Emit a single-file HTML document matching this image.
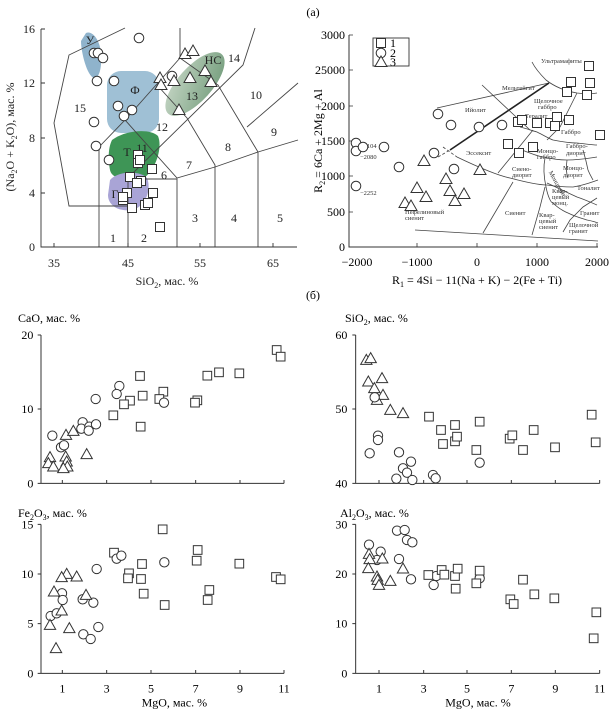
<!DOCTYPE html>
<html><head><meta charset="utf-8"><style>
html,body{margin:0;padding:0;background:#fff;}
svg{display:block;font-family:"Liberation Serif",serif;}
</style></head><body>
<svg width="613" height="714" viewBox="0 0 613 714" xmlns="http://www.w3.org/2000/svg">
<defs>
<g id="s"><rect x="-4.5" y="-4.5" width="9" height="9" fill="#fff" stroke="#333" stroke-width="1"/></g>
<g id="c"><circle r="4.8" fill="#fff" stroke="#333" stroke-width="1"/></g>
<g id="t"><polygon points="0,-6 6,4.5 -6,4.5" fill="#fff" stroke="#333" stroke-width="1"/></g>
<g id="S"><rect x="-13" y="-13" width="26" height="26" fill="#fff" stroke="#333" stroke-width="3"/></g>
<g id="C"><circle r="14" fill="#fff" stroke="#333" stroke-width="3"/></g>
<g id="T"><polygon points="0,-17 17,13 -17,13" fill="#fff" stroke="#333" stroke-width="3"/></g>
<linearGradient id="gns" x1="0" y1="0" x2="1" y2="1"><stop offset="0" stop-color="#c9d8c8"/><stop offset="1" stop-color="#6f9a78"/></linearGradient>
</defs>

<!-- TAS -->
<path d="M86,33 C93,30 101,42 101,55 C102,68 99,79 94,78 C87,76 81,52 81,41Z" fill="#8fb3cc"/>
<rect x="107" y="71" width="52" height="62" rx="14" fill="#9fc0d5"/>
<ellipse cx="195" cy="84" rx="40" ry="17" transform="rotate(-48 195 84)" fill="url(#gns)"/>
<path d="M112,140 C125,130 150,128 158,136 C163,148 155,170 145,177 C130,182 112,180 110,170 C108,160 108,148 112,140Z" fill="#3e9556"/>
<path d="M110,180 C118,171 140,170 147,178 C152,190 145,207 132,210 C118,212 108,205 108,195Z" fill="#a9a4d6"/>
<g fill="none" stroke="#444" stroke-width="0.9">
<path d="M125,28 L69,55 L54,123 L69,206 L128,206"/>
<path d="M99,247 V147 L125,120 L180,58 V28"/>
<path d="M128,247 V179 H177 V247"/>
<path d="M125,120 L177,178 L215,167 L258,152 L298,140"/>
<path d="M157,85 L187,118 L215,165 V247"/>
<path d="M180,58 L218,85 L258,152 V247"/>
<path d="M133,173 L243,65 L255,28"/>
<path d="M247,127 L298,83"/>
<path d="M41,29 V247 H297" stroke="#333"/>
<path d="M41,29 H45 M41,83 H45 M41,138 H45 M41,193 H45 M54,247 V243 M128,247 V243 M200,247 V243 M273,247 V243" stroke="#333"/>
</g>
<g font-size="12" text-anchor="end" fill="#222">
<text x="35" y="33">16</text><text x="35" y="87">12</text><text x="35" y="142">8</text><text x="35" y="197">4</text><text x="35" y="251">0</text>
</g>
<g font-size="12" text-anchor="middle" fill="#222">
<text x="54" y="267">35</text><text x="128" y="267">45</text><text x="200" y="267">55</text><text x="273" y="267">65</text>
<text x="167" y="285">SiO<tspan font-size="8" dy="3">2</tspan><tspan dy="-3">, мас. %</tspan></text>
<text transform="translate(14,137) rotate(-90)">(Na<tspan font-size="8" dy="3">2</tspan><tspan dy="-3">O + K</tspan><tspan font-size="8" dy="3">2</tspan><tspan dy="-3">O), мас. %</tspan></text>
<g font-size="12">
<text x="90" y="44">У</text><text x="80" y="112">15</text><text x="135" y="94">Ф</text><text x="162" y="131">12</text>
<text x="127" y="156">Т</text><text x="142" y="152">11</text><text x="164" y="179">6</text><text x="115" y="198">Г</text>
<text x="189" y="169">7</text><text x="228" y="151">8</text><text x="195" y="222">3</text><text x="234" y="222">4</text><text x="280" y="222">5</text>
<text x="113" y="242">1</text><text x="144" y="242">2</text><text x="274" y="136">9</text><text x="256" y="99">10</text>
<text x="192" y="100">13</text><text x="213" y="64">НС</text><text x="234" y="62">14</text>
</g></g>
<use href="#c" x="139" y="38"/><use href="#c" x="94" y="53"/><use href="#c" x="98" y="53"/><use href="#c" x="103" y="58"/>
<use href="#c" x="97" y="81"/><use href="#c" x="114" y="81"/><use href="#c" x="118" y="106"/><use href="#c" x="132" y="110"/>
<use href="#c" x="124" y="116"/><use href="#c" x="94" y="122"/><use href="#c" x="96" y="146"/><use href="#c" x="109" y="160"/><use href="#c" x="172" y="76"/>
<use href="#t" x="185" y="54"/><use href="#t" x="193" y="51"/><use href="#t" x="160" y="78"/><use href="#t" x="161" y="85"/>
<use href="#t" x="174" y="81"/><use href="#t" x="190" y="78"/><use href="#t" x="205" y="71"/><use href="#t" x="211" y="82"/><use href="#t" x="179" y="110"/>
<use href="#s" x="138" y="155"/><use href="#s" x="138" y="163"/><use href="#s" x="140" y="160"/><use href="#s" x="130" y="177"/>
<use href="#s" x="141" y="181"/><use href="#s" x="137" y="183"/><use href="#s" x="152" y="169"/><use href="#s" x="123" y="200"/>
<use href="#s" x="127" y="193"/><use href="#s" x="123" y="197"/><use href="#s" x="132" y="208"/><use href="#s" x="145" y="205"/>
<use href="#s" x="148" y="203"/><use href="#s" x="153" y="193"/><use href="#s" x="160" y="227"/>

<!-- R1R2 -->
<text x="313" y="16" font-size="12" text-anchor="middle">(а)</text>
<g fill="none" stroke="#444" stroke-width="0.8">
<path d="M349,35 V247 H598" stroke="#333" stroke-width="1"/>
<path d="M349,35 H353 M349,70 H353 M349,106 H353 M349,141 H353 M349,176 H353 M349,212 H353 M417,247 V243 M477,247 V243 M537,247 V243 M597,247 V243" stroke="#333"/>
<path d="M437,108 L549,83"/>
<path d="M450,150 L549,83" stroke-width="1.6" stroke="#222"/>
<path d="M438,157 L450,150 M443,147 L457,157" stroke-dasharray="3,2"/>
<path d="M457,157 C480,168 500,176 510,178 C525,182 540,185 547,185 C560,187 573,187 573,187 C585,185 592,182 598,180"/>
<path d="M532,62 C536,70 542,76 546,80 C555,87 565,91 577,93 C585,94 592,94 597,93"/>
<path d="M482,85 L530,130"/>
<path d="M520,127 C528,129 533,131 537,132 C545,136 550,139 553,140 C563,142 570,143 577,143 C587,144 592,145 597,145"/>
<path d="M577,93 L570,107 L560,127 L547,140"/>
<path d="M533,130 L498,173"/>
<path d="M522,150 C530,153 537,156 543,157 C552,159 560,160 567,160 C580,160 590,158 597,157"/>
<path d="M545,158 C543,168 544,178 546,187 C548,197 551,203 553,203 C560,210 568,213 568,213 C576,217 584,219 587,220 C592,221 596,222 598,223"/>
<path d="M567,160 C566,167 566,173 568,178"/>
<path d="M583,150 C586,160 588,170 588,170 C590,175 592,178 593,180"/>
<path d="M483,233 L513,182"/>
<path d="M532,235 L540,207 L545,187"/>
<path d="M563,232 L570,220 L583,207 L597,198"/>
<path d="M547,183 C558,188 568,193 577,197 C586,200 592,203 597,205"/>
<path d="M415,230 L598,241"/>
</g>
<rect x="373" y="38" width="36" height="28" fill="#fff" stroke="#333" stroke-width="0.9"/>
<use href="#s" x="381" y="43"/><use href="#c" x="381" y="53"/><use href="#t" x="381" y="62"/>
<g font-size="12"><text x="390" y="47">1</text><text x="390" y="57">2</text><text x="390" y="66">3</text></g>
<g font-size="12" text-anchor="end">
<text x="345" y="39">3000</text><text x="345" y="74">25000</text><text x="345" y="110">2000</text><text x="345" y="145">1500</text>
<text x="345" y="180">1000</text><text x="345" y="216">500</text><text x="345" y="251">0</text>
</g>
<g font-size="12" text-anchor="middle">
<text x="357" y="266">−2000</text><text x="417" y="266">−1000</text><text x="477" y="266">0</text><text x="537" y="266">1000</text><text x="597" y="266">2000</text>
<text x="477" y="284">R<tspan font-size="8" dy="3">1</tspan><tspan dy="-3"> = 4Si − 11(Na + K) − 2(Fe + Ti)</tspan></text>
<text transform="translate(322,141) rotate(-90)">R<tspan font-size="8" dy="3">2</tspan><tspan dy="-3"> = 6Ca + 2Mg + Al</tspan></text>
</g>
<g font-size="6.5" fill="#333">
<text x="541" y="63">Ультрамафиты</text><text x="502" y="90">Мельтейгит</text><text x="465" y="112">Ийолит</text>
<text x="534" y="103">Щелочное</text><text x="538" y="109">габбро</text><text x="525" y="118">Тералит</text>
<text x="561" y="134">Габбро</text><text x="466" y="155">Эссексит</text>
<text x="537" y="153">Монцо-</text><text x="537" y="159">габбро</text><text x="566" y="148">Габбро-</text><text x="566" y="155">диорит</text>
<text x="512" y="171">Сиено-</text><text x="512" y="177">диорит</text><text x="563" y="170">Монцо-</text><text x="563" y="177">диорит</text>
<text x="547" y="175" transform="rotate(60 550 175)">Монцонит</text>
<text x="577" y="190">Тоналит</text><text x="580" y="215">Гранит</text>
<text x="552" y="193">Квар-</text><text x="552" y="199">цевый</text><text x="552" y="205">монц.</text>
<text x="405" y="214">Нефелиновый</text><text x="405" y="220">сиенит</text>
<text x="505" y="215">Сиенит</text><text x="539" y="217">Квар-</text><text x="539" y="223">цевый</text><text x="539" y="229">сиенит</text>
<text x="569" y="227">Щелочной</text><text x="569" y="233">гранит</text>
<text x="360" y="148">−2104</text><text x="360" y="159">−2080</text><text x="360" y="195">−2252</text>
</g>
<use href="#s" x="589" y="66"/><use href="#s" x="571" y="82"/><use href="#s" x="567" y="92"/><use href="#s" x="590" y="83"/>
<use href="#s" x="587" y="95"/><use href="#s" x="518" y="122"/><use href="#s" x="522" y="120"/><use href="#s" x="537" y="123"/>
<use href="#s" x="550" y="123"/><use href="#s" x="557" y="117"/><use href="#s" x="555" y="126"/><use href="#s" x="569" y="120"/>
<use href="#s" x="600" y="135"/><use href="#s" x="508" y="144"/><use href="#s" x="533" y="147"/><use href="#s" x="519" y="153"/>
<use href="#c" x="438" y="114"/><use href="#c" x="451" y="125"/><use href="#c" x="479" y="127"/><use href="#c" x="502" y="125"/>
<use href="#c" x="356" y="143"/><use href="#c" x="356" y="151"/><use href="#c" x="363" y="147"/><use href="#c" x="384" y="147"/>
<use href="#c" x="399" y="167"/><use href="#c" x="434" y="153"/><use href="#c" x="454" y="169"/><use href="#c" x="356" y="186"/>
<use href="#t" x="424" y="161"/><use href="#t" x="417" y="188"/><use href="#t" x="446" y="179"/><use href="#t" x="450" y="191"/>
<use href="#t" x="480" y="170"/><use href="#t" x="426" y="197"/><use href="#t" x="464" y="194"/><use href="#t" x="405" y="203"/>
<use href="#t" x="411" y="206"/><use href="#t" x="455" y="201"/>

<text x="313" y="299" font-size="12" text-anchor="middle">(б)</text>
<text x="18" y="322" font-size="12">CaO, мас. %</text>
<text x="345" y="322" font-size="12">SiO<tspan font-size="8" dy="3">2</tspan><tspan dy="-3">, мас. %</tspan></text>
<text x="18" y="517" font-size="12">Fe<tspan font-size="8" dy="3">2</tspan><tspan dy="-3">O</tspan><tspan font-size="8" dy="3">3</tspan><tspan dy="-3">, мас. %</tspan></text>
<text x="340" y="517" font-size="12">Al<tspan font-size="8" dy="3">2</tspan><tspan dy="-3">O</tspan><tspan font-size="8" dy="3">3</tspan><tspan dy="-3">, мас. %</tspan></text>

<!-- bottom-left -->
<svg x="0" y="320" width="310" height="394" viewBox="0 0 930 1182">
<g fill="none" stroke="#333" stroke-width="3">
<path d="M123,45 V490 H852 M113,45 H123 M113,267 H123 M113,490 H123 M187,490 V480 M320,490 V480 M453,490 V480 M587,490 V480 M720,490 V480 M852,490 V480"/>
<path d="M123,613 V1060 H852 M113,613 H123 M113,762 H123 M113,911 H123 M113,1060 H123 M187,1060 V1050 M320,1060 V1050 M453,1060 V1050 M587,1060 V1050 M720,1060 V1050 M852,1060 V1050"/>
</g>
<g font-size="36" text-anchor="end"><text x="100" y="57">20</text><text x="100" y="279">10</text><text x="100" y="502">0</text>
<text x="100" y="625">15</text><text x="100" y="774">10</text><text x="100" y="923">5</text><text x="100" y="1072">0</text></g>
<g font-size="36" text-anchor="middle"><text x="187" y="1118">1</text><text x="320" y="1118">3</text><text x="453" y="1118">5</text><text x="587" y="1118">7</text><text x="720" y="1118">9</text><text x="852" y="1118">11</text>
<text x="523" y="1160">MgO, мас. %</text></g>
<use href="#S" x="830" y="90"/><use href="#S" x="842" y="110"/><use href="#S" x="420" y="168"/><use href="#S" x="622" y="167"/><use href="#S" x="657" y="157"/><use href="#S" x="718" y="160"/><use href="#S" x="490" y="215"/><use href="#S" x="428" y="227"/><use href="#S" x="478" y="237"/><use href="#S" x="592" y="241"/><use href="#S" x="585" y="248"/><use href="#S" x="390" y="242"/><use href="#S" x="372" y="253"/><use href="#S" x="340" y="286"/><use href="#S" x="422" y="320"/>
<use href="#C" x="157" y="347"/><use href="#C" x="287" y="237"/><use href="#C" x="358" y="198"/><use href="#C" x="350" y="222"/><use href="#C" x="492" y="248"/><use href="#C" x="248" y="307"/><use href="#C" x="244" y="326"/><use href="#C" x="268" y="320"/><use href="#C" x="288" y="313"/><use href="#C" x="266" y="332"/><use href="#C" x="183" y="382"/><use href="#C" x="192" y="376"/>
<use href="#T" x="150" y="412"/><use href="#T" x="145" y="430"/><use href="#T" x="160" y="440"/><use href="#T" x="198" y="345"/><use href="#T" x="220" y="333"/><use href="#T" x="197" y="410"/><use href="#T" x="200" y="425"/><use href="#T" x="202" y="440"/><use href="#T" x="260" y="403"/><use href="#T" x="190" y="445"/>
<use href="#S" x="488" y="628"/><use href="#S" x="342" y="698"/><use href="#S" x="593" y="690"/><use href="#S" x="590" y="722"/><use href="#S" x="718" y="731"/><use href="#S" x="426" y="732"/><use href="#S" x="387" y="760"/><use href="#S" x="384" y="775"/><use href="#S" x="423" y="777"/><use href="#S" x="431" y="821"/><use href="#S" x="628" y="810"/><use href="#S" x="623" y="840"/><use href="#S" x="494" y="855"/><use href="#S" x="828" y="771"/><use href="#S" x="842" y="778"/>
<use href="#C" x="290" y="747"/><use href="#C" x="350" y="716"/><use href="#C" x="364" y="707"/><use href="#C" x="493" y="727"/><use href="#C" x="186" y="820"/><use href="#C" x="188" y="840"/><use href="#C" x="248" y="838"/><use href="#C" x="280" y="848"/><use href="#C" x="152" y="888"/><use href="#C" x="170" y="880"/><use href="#C" x="250" y="943"/><use href="#C" x="272" y="957"/><use href="#C" x="295" y="921"/>
<use href="#T" x="200" y="762"/><use href="#T" x="230" y="770"/><use href="#T" x="185" y="772"/><use href="#T" x="162" y="815"/><use href="#T" x="258" y="825"/><use href="#T" x="185" y="872"/><use href="#T" x="150" y="915"/><use href="#T" x="208" y="925"/><use href="#T" x="168" y="985"/>
</svg>

<!-- bottom-right -->
<svg x="303" y="320" width="310" height="394" viewBox="0 0 930 1182">
<g fill="none" stroke="#333" stroke-width="3">
<path d="M158,45 V490 H890 M148,45 H158 M148,267 H158 M148,490 H158 M228,490 V480 M362,490 V480 M492,490 V480 M625,490 V480 M757,490 V480 M890,490 V480"/>
<path d="M158,613 V1060 H890 M148,613 H158 M148,762 H158 M148,911 H158 M148,1060 H158 M228,1060 V1050 M362,1060 V1050 M492,1060 V1050 M625,1060 V1050 M757,1060 V1050 M890,1060 V1050"/>
</g>
<g font-size="36" text-anchor="end"><text x="133" y="57">60</text><text x="133" y="279">50</text><text x="133" y="502">40</text>
<text x="133" y="625">30</text><text x="133" y="774">20</text><text x="133" y="923">10</text><text x="133" y="1072">0</text></g>
<g font-size="36" text-anchor="middle"><text x="228" y="1118">1</text><text x="362" y="1118">3</text><text x="492" y="1118">5</text><text x="625" y="1118">7</text><text x="757" y="1118">9</text><text x="890" y="1118">11</text>
<text x="525" y="1160">MgO, мас. %</text></g>
<use href="#T" x="190" y="120"/><use href="#T" x="203" y="115"/><use href="#T" x="196" y="185"/><use href="#T" x="237" y="175"/><use href="#T" x="214" y="205"/><use href="#T" x="240" y="225"/><use href="#T" x="222" y="240"/><use href="#T" x="262" y="270"/><use href="#T" x="300" y="280"/>
<use href="#C" x="215" y="232"/><use href="#C" x="225" y="347"/><use href="#C" x="225" y="360"/><use href="#C" x="200" y="400"/><use href="#C" x="288" y="397"/><use href="#C" x="300" y="445"/><use href="#C" x="312" y="458"/><use href="#C" x="324" y="425"/><use href="#C" x="280" y="476"/><use href="#C" x="328" y="480"/><use href="#C" x="390" y="465"/><use href="#C" x="398" y="475"/><use href="#C" x="530" y="428"/>
<use href="#S" x="378" y="290"/><use href="#S" x="414" y="330"/><use href="#S" x="420" y="372"/><use href="#S" x="456" y="315"/><use href="#S" x="456" y="364"/><use href="#S" x="462" y="350"/><use href="#S" x="530" y="305"/><use href="#S" x="520" y="390"/><use href="#S" x="620" y="356"/><use href="#S" x="628" y="346"/><use href="#S" x="660" y="390"/><use href="#S" x="692" y="330"/><use href="#S" x="756" y="382"/><use href="#S" x="866" y="284"/><use href="#S" x="878" y="367"/>
<use href="#C" x="198" y="674"/><use href="#C" x="233" y="695"/><use href="#C" x="222" y="720"/><use href="#C" x="282" y="632"/><use href="#C" x="305" y="630"/><use href="#C" x="312" y="660"/><use href="#C" x="328" y="667"/><use href="#C" x="288" y="717"/><use href="#C" x="324" y="778"/><use href="#C" x="400" y="768"/><use href="#C" x="392" y="795"/><use href="#C" x="530" y="775"/>
<use href="#T" x="198" y="702"/><use href="#T" x="200" y="718"/><use href="#T" x="196" y="745"/><use href="#T" x="238" y="716"/><use href="#T" x="222" y="770"/><use href="#T" x="224" y="780"/><use href="#T" x="228" y="795"/><use href="#T" x="262" y="783"/><use href="#T" x="300" y="746"/>
<use href="#S" x="376" y="765"/><use href="#S" x="416" y="750"/><use href="#S" x="424" y="764"/><use href="#S" x="456" y="768"/><use href="#S" x="464" y="746"/><use href="#S" x="458" y="806"/><use href="#S" x="520" y="790"/><use href="#S" x="530" y="752"/><use href="#S" x="622" y="838"/><use href="#S" x="632" y="852"/><use href="#S" x="660" y="779"/><use href="#S" x="694" y="823"/><use href="#S" x="754" y="835"/><use href="#S" x="880" y="877"/><use href="#S" x="872" y="955"/>
</svg>
</svg>
</body></html>
